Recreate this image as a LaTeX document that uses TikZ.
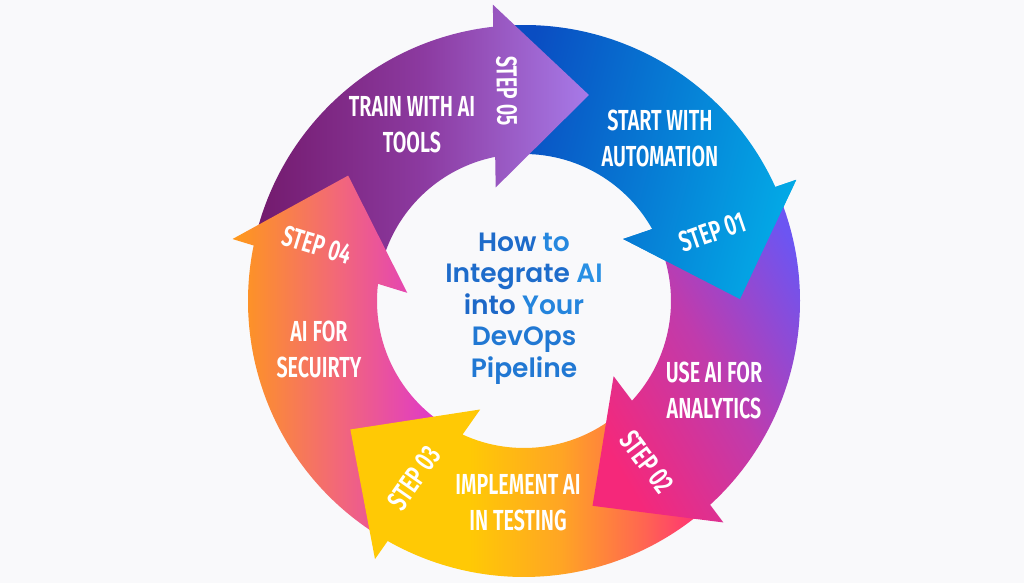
\documentclass[tikz,border=0pt]{standalone}
\usepackage{fontspec}
\IfFontExistsTF{Fira Sans SemiBold}{\newfontfamily\labelfont[FakeStretch=0.68]{Fira Sans SemiBold}\def\labelweight{}}{\newfontfamily\labelfont[FakeStretch=0.66]{Fira Sans}\def\labelweight{\bfseries}}
\IfFontExistsTF{Poppins SemiBold}{\newfontfamily\titlefont{Poppins SemiBold}\def\titleweight{}}{\newfontfamily\titlefont{Poppins}\def\titleweight{\bfseries}}
\definecolor{bg}{HTML}{F9F9FB}
\definecolor{b1a}{HTML}{0A4DC2}
\definecolor{b1b}{HTML}{03A9E6}
\definecolor{p2a}{HTML}{F5287A}
\definecolor{p2m}{HTML}{C03BAC}
\definecolor{p2b}{HTML}{6C55F2}
\definecolor{y3a}{HTML}{FFC905}
\definecolor{y3m}{HTML}{FFA524}
\definecolor{y3n}{HTML}{FF6A4E}
\definecolor{y3b}{HTML}{FF2E78}
\definecolor{o4a}{HTML}{FF9A18}
\definecolor{o4m}{HTML}{F2677A}
\definecolor{o4b}{HTML}{DD34D2}
\definecolor{v5a}{HTML}{731A6D}
\definecolor{v5m}{HTML}{8C3AA0}
\definecolor{v5b}{HTML}{A77AE8}
\definecolor{tA}{HTML}{1858BD}
\definecolor{tB}{HTML}{2B98EA}
\pgfdeclarehorizontalshading{shone}{100bp}{color(0bp)=(b1a); color(25bp)=(b1a); color(75bp)=(b1b); color(100bp)=(b1b)}
\pgfdeclarehorizontalshading{shtwo}{100bp}{color(0bp)=(p2a); color(25bp)=(p2a); color(50bp)=(p2m); color(75bp)=(p2b); color(100bp)=(p2b)}
\pgfdeclarehorizontalshading{shthree}{100bp}{color(0bp)=(y3a); color(25bp)=(y3a); color(42bp)=(y3a); color(55bp)=(y3m); color(66bp)=(y3n); color(75bp)=(y3b); color(100bp)=(y3b)}
\pgfdeclarehorizontalshading{shfour}{100bp}{color(0bp)=(o4a); color(25bp)=(o4a); color(50bp)=(o4m); color(75bp)=(o4b); color(100bp)=(o4b)}
\pgfdeclarehorizontalshading{shfive}{100bp}{color(0bp)=(v5a); color(25bp)=(v5a); color(50bp)=(v5m); color(75bp)=(v5b); color(100bp)=(v5b)}
\newcommand\arrowpath[1]{({#1+93.5}:276) arc[start angle={#1+93.5}, end angle={#1+23.9}, radius=276pt] -- ({#1+23.5}:298) -- (#1:216) -- ({#1+31.5}:117) -- ({#1+28.8}:147) arc[start angle={#1+28.8}, end angle={#1+94}, radius=147pt] -- cycle}
\newcommand\headpath[1]{({#1+23.5}:298) -- (#1:216) -- ({#1+31.5}:117) -- cycle}
\newcommand\tw[2]{\textcolor{tB!#1!tA}{#2}}
\tikzset{
  lbl/.style={text=white, font=\labelfont\labelweight\fontsize{29}{36}\selectfont, align=center, inner sep=0pt},
  steplbl/.style={text=white, font=\labelfont\labelweight\fontsize{29}{36}\selectfont, inner sep=0pt},
  titletext/.style={font=\titlefont\titleweight\fontsize{26.5}{31.5}\selectfont, align=center, inner sep=0pt}
}
\begin{document}
\begin{tikzpicture}[x=1pt,y=1pt]
\useasboundingbox (-524,-282) rectangle (500,301);
\fill[bg] (-524,-282) rectangle (500,301);
% arrows: 1 first, then 5,4,3,2, then head of 1 again
\shade[shading=shone, shading angle=-15] \arrowpath{0.5};
\shade[shading=shfive] \arrowpath{72.5};
\shade[shading=shfour] \arrowpath{144.5};
\shade[shading=shthree] \arrowpath{-143.5};
\shade[shading=shtwo, shading angle=30] \arrowpath{-71.5};
\begin{scope}
\clip \headpath{0.5};
\shade[shading=shone, shading angle=-15] \arrowpath{0.5};
\end{scope}
% labels
\node[lbl] (t5) at (-112,176) {TRAIN WITH AI\\TOOLS};
\node[lbl] (t1) at (136,163) {START WITH\\AUTOMATION};
\node[lbl] (t2) at (190,-89) {USE AI FOR\\ANALYTICS};
\node[lbl] (t3) at (-6,-202) {IMPLEMENT AI\\IN TESTING};
\node[lbl] (t4) at (-205,-48) {AI FOR\\SECUIRTY};
\node[steplbl, rotate=19] (s1) at (188,69) {STEP 01};
\node[steplbl, rotate=-53] (s2) at (123,-161) {STEP 02};
\node[steplbl, rotate=55] (s3) at (-110,-177) {STEP 03};
\node[steplbl, rotate=-17] (s4) at (-207,56) {STEP 04};
\node[steplbl, rotate=-89] (s5) at (-17,210) {STEP 05};
\node[titletext] (title) at (0,-7.7) {\tw{30}{How} \tw{75}{to}\\\tw{32}{Integrate} \tw{88}{AI}\\\tw{25}{into} \tw{70}{Your}\\\tw{50}{DevOps}\\\tw{50}{Pipeline}};
\end{tikzpicture}
\end{document}
